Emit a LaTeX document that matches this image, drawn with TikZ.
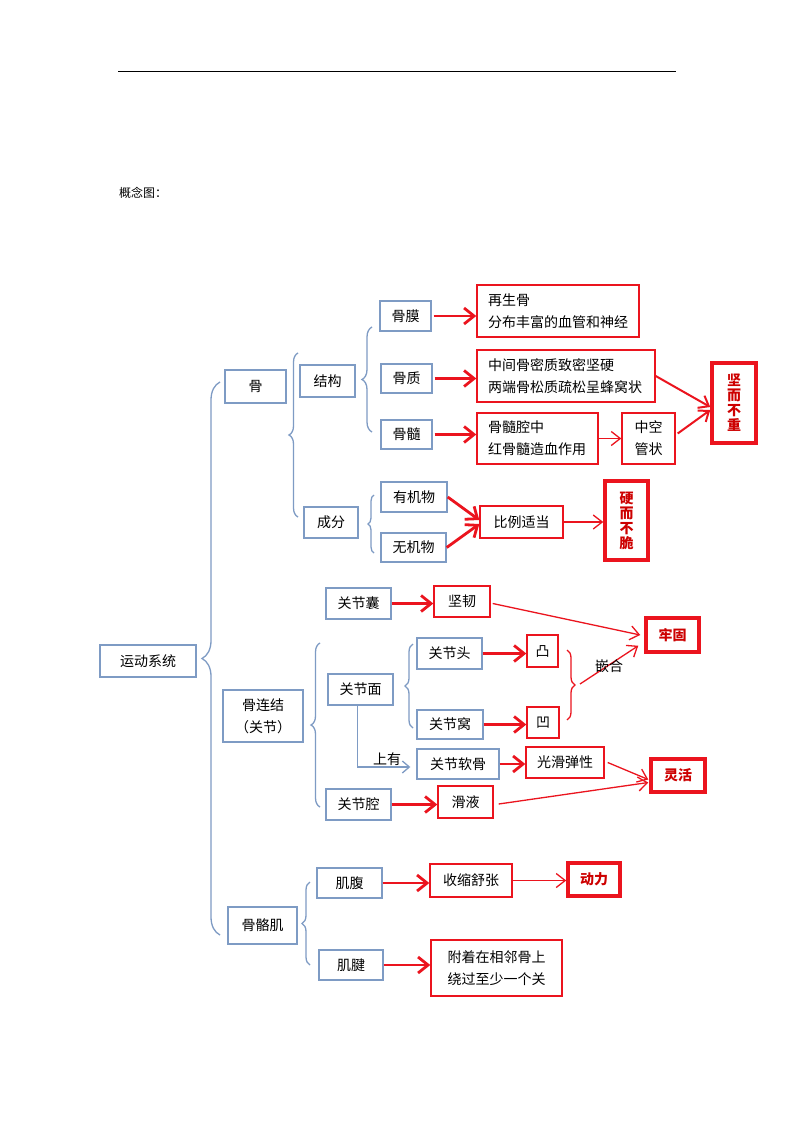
\documentclass[tikz,border=0pt]{standalone}
\usepackage{fontspec}
\setmainfont{Noto Sans CJK SC}
\usetikzlibrary{arrows.meta,decorations.pathreplacing,calc}
\definecolor{bl}{RGB}{126,155,196}
\definecolor{rd}{RGB}{235,20,30}
\definecolor{rt}{RGB}{205,0,0}
\begin{document}
\begin{tikzpicture}[x=1pt,y=-1pt,
 every node/.style={font=\fontsize{14}{22}\selectfont, inner sep=0pt},
 bbox/.style={draw=bl, line width=1.4pt},
 rbox/.style={draw=rd, line width=1.4pt},
 lbox/.style={rbox, align=left, inner xsep=11pt},
 kbox/.style={draw=rd, line width=3.5pt, text=rt, font=\fontsize{14}{15}\selectfont\bfseries, align=center},
 tarr/.style={draw=rd, line width=2.8pt, -{Straight Barb[length=10pt,width=16pt]}},
 narr/.style={draw=rd, line width=1.3pt, -{Straight Barb[length=9pt,width=14pt]}},
 barr/.style={draw=bl, line width=1.3pt, -{Straight Barb[length=7pt,width=12pt]}},
 brc/.style={draw=bl, line width=1.3pt, decorate, decoration={brace, amplitude=#1}},
]
\useasboundingbox (0,0) rectangle (794,1123);
\fill[white] (0,0) rectangle (794,1123);

% header
\coordinate (hl) at (118,72);
\coordinate (hr) at (676,72);
\draw[line width=1pt] (hl) -- (hr);
\node[font=\fontsize{12}{14}\selectfont, anchor=west] (title) at (119,193) {概念图：};

% blue boxes
\node[bbox,minimum width=96,minimum height=32] (ydxt) at (148,661) {运动系统};
\node[bbox,minimum width=61,minimum height=33] (gu) at (255.5,386.5) {骨};
\node[bbox,minimum width=55,minimum height=32] (jg) at (327.5,381) {结构};
\node[bbox,minimum width=54,minimum height=31] (cf) at (331,522.5) {成分};
\node[bbox,minimum width=51,minimum height=30] (gm) at (405.5,316) {骨膜};
\node[bbox,minimum width=51,minimum height=29] (gz) at (406.5,378.5) {骨质};
\node[bbox,minimum width=51,minimum height=29] (gs) at (406.5,434.5) {骨髓};
\node[bbox,minimum width=66,minimum height=30] (yjw) at (414,497) {有机物};
\node[bbox,minimum width=65,minimum height=29] (wjw) at (413.5,547.5) {无机物};
\node[bbox,minimum width=80,minimum height=52,align=center] (glj) at (263,716) {骨连结\\（关节）};
\node[bbox,minimum width=65,minimum height=31] (gjn) at (358.5,603.5) {关节囊};
\node[bbox,minimum width=65,minimum height=31] (gjm) at (360.5,689.5) {关节面};
\node[bbox,minimum width=65,minimum height=31] (gjq) at (358.5,804.5) {关节腔};
\node[bbox,minimum width=65,minimum height=31] (gjt) at (449.5,653.5) {关节头};
\node[bbox,minimum width=66,minimum height=29] (gjw) at (450,724.5) {关节窝};
\node[bbox,minimum width=82,minimum height=30] (gjrg) at (458,764) {关节软骨};
\node[bbox,minimum width=69,minimum height=37] (ggj) at (262.5,925.5) {骨骼肌};
\node[bbox,minimum width=65,minimum height=30] (jf) at (349.5,883) {肌腹};
\node[bbox,minimum width=64,minimum height=30] (jj) at (351,965) {肌腱};

% red boxes
\node[lbox,text width=140,minimum height=52] (zsg) at (558,311) {再生骨\\分布丰富的血管和神经};
\node[lbox,text width=156,minimum height=52] (zjg) at (566,376) {中间骨密质致密坚硬\\两端骨松质疏松呈蜂窝状};
\node[lbox,text width=99,minimum height=51] (gsq) at (537.5,438.5) {骨髓腔中\\红骨髓造血作用};
\node[rbox,minimum width=53,minimum height=51,align=center] (zk) at (648.5,438.5) {中空\\管状};
\node[kbox,minimum width=44,minimum height=80] (jebz) at (734,403) {坚\\而\\不\\重};
\node[rbox,minimum width=83,minimum height=32] (blsd) at (521.5,522) {比例适当};
\node[kbox,minimum width=43,minimum height=79] (yebc) at (626.5,520.5) {硬\\而\\不\\脆};
\node[rbox,minimum width=56,minimum height=31] (jr) at (462,601.5) {坚韧};
\node[rbox,minimum width=31,minimum height=32] (tu) at (542.5,651) {凸};
\node[rbox,minimum width=32,minimum height=31] (ao) at (543,722.5) {凹};
\node[rbox,minimum width=78,minimum height=31] (ghtx) at (565,762.5) {光滑弹性};
\node[rbox,minimum width=55,minimum height=32] (hy) at (465.5,802) {滑液};
\node[kbox,minimum width=53,minimum height=34] (lg) at (672.5,635) {牢固};
\node[kbox,minimum width=54,minimum height=33] (lh) at (678,775.5) {灵活};
\node[rbox,minimum width=82,minimum height=33] (sszz) at (471,880.5) {收缩舒张};
\node[kbox,minimum width=52,minimum height=33] (dl) at (594,879.5) {动力};
\node[rbox,minimum width=131,minimum height=56,align=center] (fz) at (496.5,968) {附着在相邻骨上\\绕过至少一个关};

% braces
\draw[brc=18] (220,935) -- (220,382);
\draw[brc=9] (298,517) -- (298,353);
\draw[brc=10] (372,432) -- (372,327);
\draw[brc=6] (374,553) -- (374,495);
\draw[brc=9] (320,807) -- (320,643);
\draw[brc=8] (413,728) -- (413,644);
\draw[brc=8] (310,965) -- (310,882);
\draw[brc=8, draw=rd] (567,650) -- (567,720);
\coordinate (qhtip) at (580,684);

% arrows, bone
\draw[tarr,shorten <=2pt] (gm.east) -- (gm.east -| zsg.west);
\draw[tarr,shorten <=2pt] (gz.east) -- (gz.east -| zjg.west);
\draw[tarr,shorten <=2pt] (gs.east) -- (gs.east -| gsq.west);
\draw[narr] (gsq.east) -- (gsq.east -| zk.west);
\draw[narr,line width=2pt] (zjg.east) -- ($(jebz.west)+(0,4)$);
\draw[narr,line width=2pt] ($(zk.east)+(2,-5)$) -- ($(jebz.west)+(0,7)$);
\draw[tarr] (yjw.east) -- ($(blsd.west)+(0,-2)$);
\draw[tarr] (wjw.east) -- ($(blsd.west)+(0,2)$);
\draw[narr] (blsd.east) -- (blsd.east -| yebc.west);

% arrows, joint
\draw[tarr] (gjn.east) -- (gjn.east -| jr.west);
\draw[narr] ($(jr.east)+(2,2)$) -- ($(lg.west)+(-4,0)$);
\draw[tarr] (gjt.east) -- (gjt.east -| tu.west);
\draw[tarr] (gjw.east) -- (gjw.east -| ao.west);
\draw[tarr] (gjrg.east) -- (gjrg.east -| ghtx.west);
\draw[tarr] (gjq.east) -- (gjq.east -| hy.west);
\draw[narr] ($(ghtx.east)+(3,0)$) -- ($(lh.west)+(-1,4)$);
\draw[narr] ($(hy.east)+(5,2)$) -- ($(lh.west)+(-1,7)$);
\draw[narr] (qhtip) -- ($(lg.south west)+(-6,-8)$);
\node (qh) at (609,666) {嵌合};
\draw[barr] ($(gjm.south)+(-3,0)$) |- ($(gjrg.west)+(-6,3)$);
\node (sy) at (387,759) {上有};

% arrows, muscle
\draw[tarr] (jf.east) -- (jf.east -| sszz.west);
\draw[narr] (sszz.east) -- (sszz.east -| dl.west);
\draw[tarr] (jj.east) -- (jj.east -| fz.west);
\end{tikzpicture}
\end{document}
